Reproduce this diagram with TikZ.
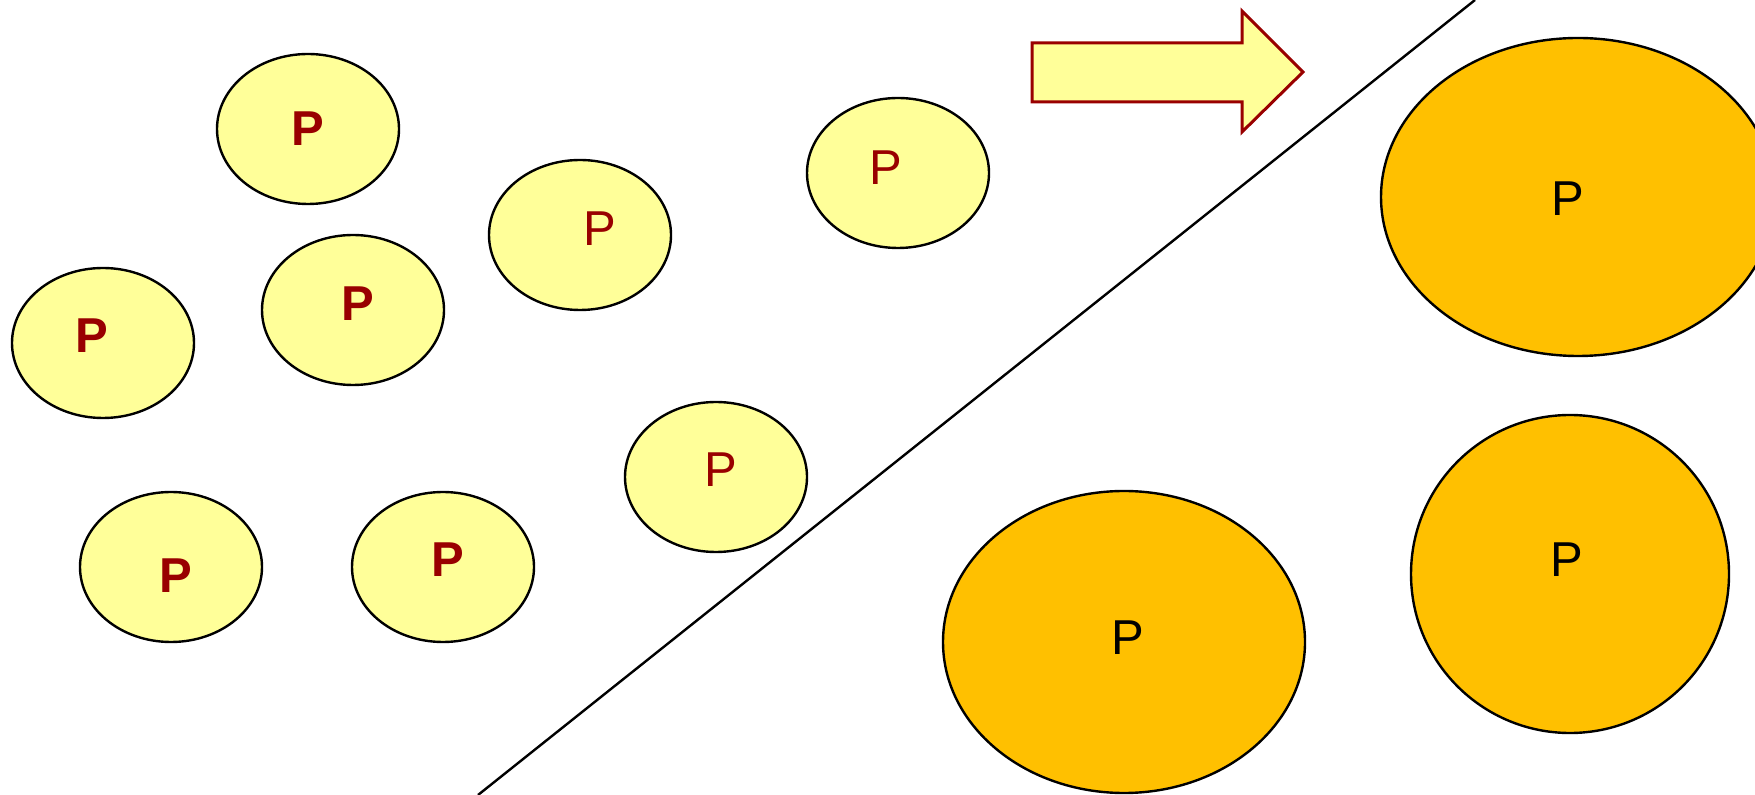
\documentclass[tikz,border=0pt]{standalone}
\usepackage{fontspec}
\setmainfont{Liberation Sans}
\usetikzlibrary{shapes.geometric}
\definecolor{pale}{HTML}{FFFF99}
\definecolor{gold}{HTML}{FFC000}
\definecolor{dred}{HTML}{990000}
\begin{document}
\begin{tikzpicture}[x=0.5pt,y=-0.5pt,
  small/.style={ellipse,draw=black,line width=1.2pt,fill=pale,minimum width=182pt*0.5,minimum height=150pt*0.5,inner sep=0pt},
  big/.style={ellipse,draw=black,line width=1.2pt,fill=gold,inner sep=0pt},
  bp/.style={text=dred,font=\fontsize{24.5}{24.5}\selectfont\bfseries,inner sep=0pt},
  rp/.style={text=dred,font=\fontsize{24.5}{24.5}\selectfont,inner sep=0pt},
  kp/.style={text=black,font=\fontsize{24.5}{24.5}\selectfont,inner sep=0pt}]
\useasboundingbox (0,0) rectangle (1755,795);
\begin{scope}
\clip (0,0) rectangle (1755,795);
% small ellipses
\node[small] (a) at (308,129) {};
\node[small] (b) at (580,235) {};
\node[small] (c) at (898,173) {};
\node[small] (d) at (103,343) {};
\node[small] (e) at (353,310) {};
\node[small] (f) at (716,477) {};
\node[small] (g) at (171,567) {};
\node[small] (h) at (443,567) {};
\node[bp] (ta) at (308,129) {P};
\node[rp] (tb) at (600,229) {P};
\node[rp] (tc) at (886,168) {P};
\node[bp] (td) at (92,336) {P};
\node[bp] (te) at (358,304) {P};
\node[rp] (tf) at (721,470) {P};
\node[bp] (tg) at (176,576) {P};
\node[bp] (th) at (448,560) {P};
% big ellipses
\node[big,minimum width=394*0.5pt,minimum height=318*0.5pt] (b1) at (1578,197) {};
\node[big,minimum width=362*0.5pt,minimum height=302*0.5pt] (b2) at (1124,642) {};
\node[big,minimum width=318*0.5pt,minimum height=318*0.5pt] (b3) at (1570,574) {};
\node[kp] (t1) at (1568,199) {P};
\node[kp] (t2) at (1128,638) {P};
\node[kp] (t3) at (1567,560) {P};
% diagonal line
\coordinate (l1) at (478,795);
\coordinate (l2) at (1475,0);
\draw[line width=1.2pt] (l1) -- (l2);
% block arrow
\draw[draw=dred,fill=pale,line width=1.5pt,line join=miter]
  (1032,43) -- (1242,43) -- (1242,11) -- (1303,72) -- (1242,132) -- (1242,102) -- (1032,102) -- cycle;
\end{scope}
\end{tikzpicture}
\end{document}
